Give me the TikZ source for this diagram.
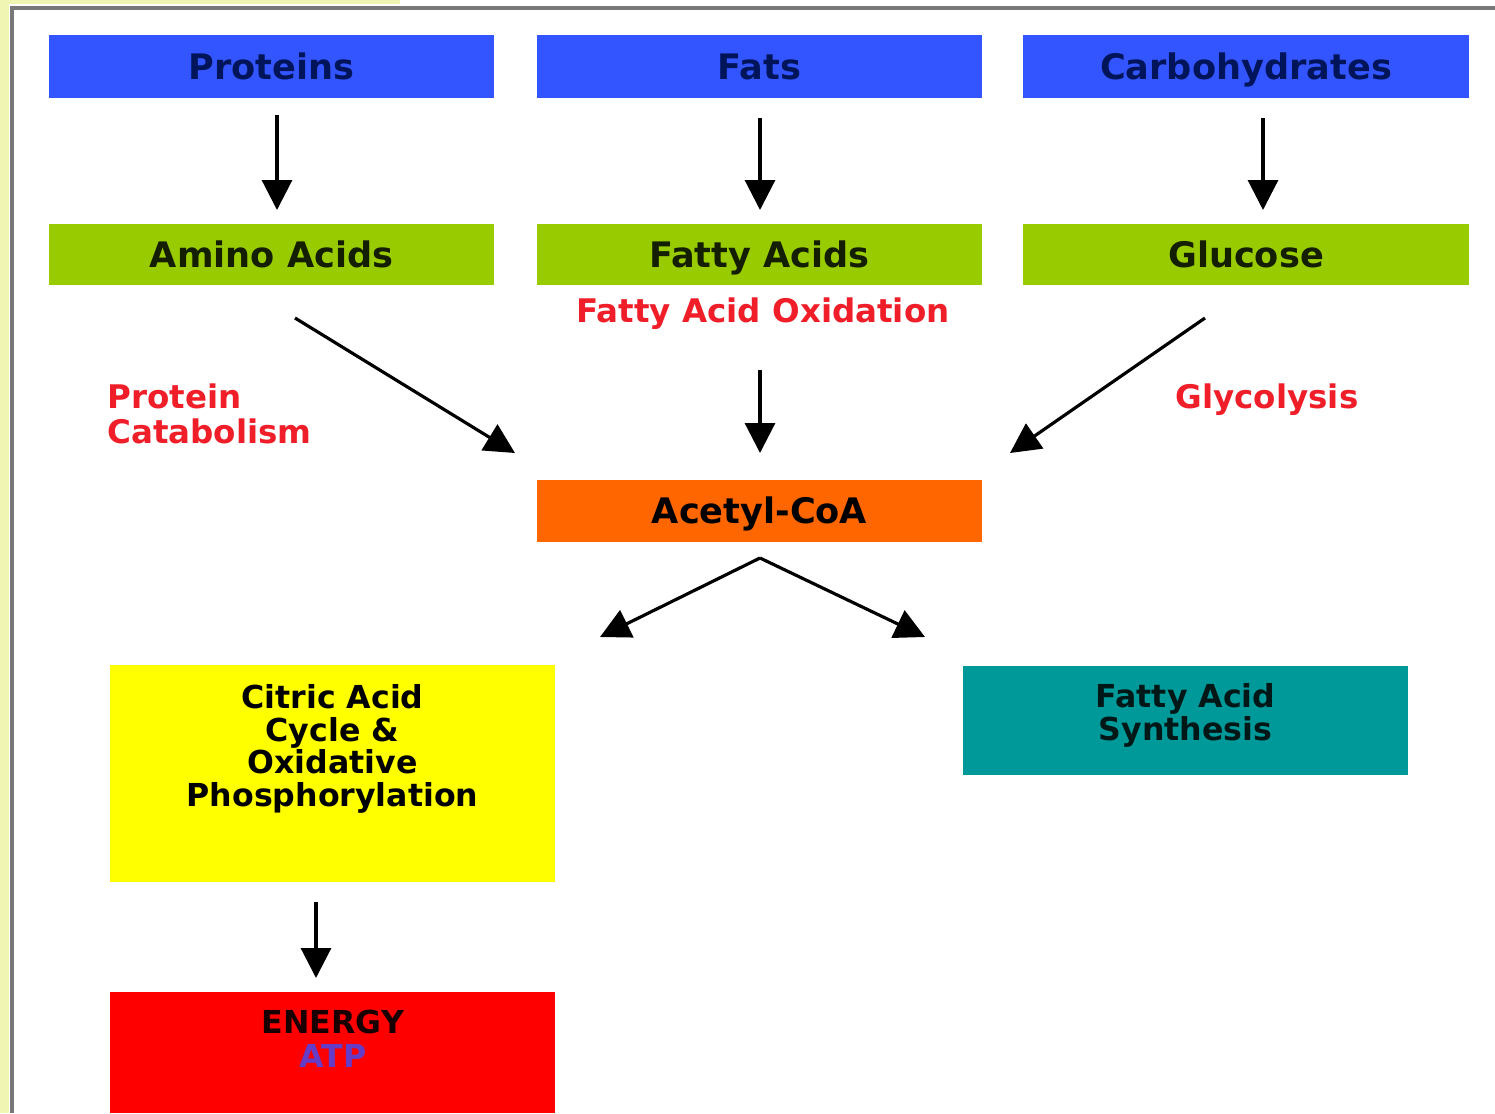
\documentclass[tikz,border=0pt]{standalone}
\usepackage{fontspec}
\setmainfont{DejaVu Sans}
\usetikzlibrary{arrows.meta}
\definecolor{cblue}{RGB}{51,85,255}
\definecolor{cgreen}{RGB}{153,204,0}
\definecolor{corange}{RGB}{255,102,0}
\definecolor{cyellow}{RGB}{255,255,0}
\definecolor{cteal}{RGB}{0,153,153}
\definecolor{cred}{RGB}{255,0,0}
\definecolor{clabel}{RGB}{240,30,40}
\definecolor{cnavy}{RGB}{0,20,90}
\definecolor{cdark}{RGB}{20,30,0}
\definecolor{catp}{RGB}{100,60,200}
\definecolor{cframe}{RGB}{120,120,120}
\definecolor{cstrip}{RGB}{240,245,180}
\begin{document}
\begin{tikzpicture}[x=0.02cm,y=-0.02cm,
  box/.style={rectangle,inner sep=0pt,minimum width=8.92cm},
  boxtxt/.style={font=\fontsize{20}{22}\selectfont\bfseries,text height=14.6pt,text depth=0pt},
  redlbl/.style={text=clabel,font=\fontsize{18.5}{19.5}\selectfont\bfseries},
  innertxt/.style={align=center,font=\fontsize{18}{18.7}\selectfont\bfseries},
  arr/.style={line width=1.8pt,-{Triangle[length=0.6cm,width=0.6cm]}}]
\useasboundingbox (0,0) rectangle (1495,1113);
\fill[white] (0,0) rectangle (1495,1113);
% frame
\fill[cstrip] (0,0) rectangle (9,1113);
\fill[cstrip] (0,0) rectangle (400,4);
\draw[cframe,line width=2.5pt] (12,1113) -- (12,8) -- (1495,8);
% top row
\node[box,fill=cblue,minimum height=1.26cm,text=cnavy,boxtxt] (prot) at (271.5,66.5) {Proteins};
\node[box,fill=cblue,minimum height=1.26cm,text=cnavy,boxtxt] (fats) at (759.5,66.5) {Fats};
\node[box,fill=cblue,minimum height=1.26cm,text=cnavy,boxtxt] (carb) at (1246,66.5) {Carbohydrates};
% second row
\node[box,fill=cgreen,minimum height=1.22cm,text=cdark,boxtxt] (amino) at (271.5,254.5) {Amino Acids};
\node[box,fill=cgreen,minimum height=1.22cm,text=cdark,boxtxt] (fatty) at (759.5,254.5) {Fatty Acids};
\node[box,fill=cgreen,minimum height=1.22cm,text=cdark,boxtxt] (gluc) at (1246,254.5) {Glucose};
% labels
\node[redlbl] (fao) at (763,314) {Fatty Acid Oxidation};
\node[redlbl,align=left,anchor=west,inner sep=0pt] (pcat) at (107,414) {Protein\\Catabolism};
\node[redlbl] (glyc) at (1267,400) {Glycolysis};
% acetyl
\node[box,fill=corange,minimum width=8.9cm,minimum height=1.24cm,text=black,boxtxt] (acoa) at (759.5,511) {Acetyl-CoA};
% bottom boxes
\node[box,fill=cyellow,minimum width=8.9cm,minimum height=4.34cm] (cac) at (332.5,773.5) {};
\node[innertxt,anchor=north,text=black] (cactxt) at (332.5,678) {Citric Acid\\Cycle \&\\Oxidative\\Phosphorylation};
\node[box,fill=cteal,minimum width=8.9cm,minimum height=2.18cm] (fas) at (1185.5,720.5) {};
\node[innertxt,text=black!85!cteal] (fastxt) at (1185.5,715) {Fatty Acid\\Synthesis};
\node[box,fill=cred,minimum width=8.9cm,minimum height=2.42cm] (energy) at (332.5,1052.5) {};
\node[innertxt,text=black!90!cred] (entxt) at (333,1022) {ENERGY};
\node[innertxt,text=catp] (atptxt) at (333,1056) {ATP};
% arrow endpoints
\coordinate (a1s) at (277,115); \coordinate (a1e) at (277,210);
\coordinate (a2s) at (760,118); \coordinate (a2e) at (760,210);
\coordinate (a3s) at (1263,118); \coordinate (a3e) at (1263,210);
\coordinate (b1s) at (295,318); \coordinate (b1e) at (515,453);
\coordinate (b2s) at (760,370); \coordinate (b2e) at (760,453);
\coordinate (b3s) at (1205,318); \coordinate (b3e) at (1010,453);
\coordinate (split) at (760,558);
\coordinate (c1e) at (600,637); \coordinate (c2e) at (925,637);
\coordinate (d1s) at (316,902); \coordinate (d1e) at (316,978);
\draw[arr] (a1s) -- (a1e);
\draw[arr] (a2s) -- (a2e);
\draw[arr] (a3s) -- (a3e);
\draw[arr] (b1s) -- (b1e);
\draw[arr] (b2s) -- (b2e);
\draw[arr] (b3s) -- (b3e);
\draw[arr] (split) -- (c1e);
\draw[arr] (split) -- (c2e);
\draw[arr] (d1s) -- (d1e);
\end{tikzpicture}
\end{document}
